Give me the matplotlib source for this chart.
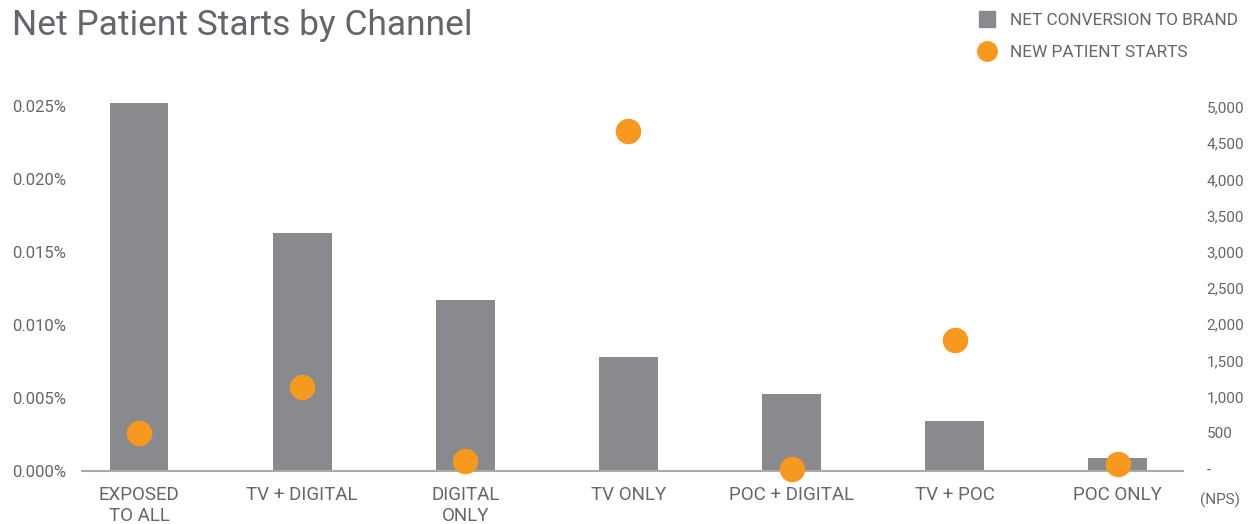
import numpy as np
import matplotlib
matplotlib.use("Agg")
import matplotlib.pyplot as plt
from matplotlib.ticker import FuncFormatter
from matplotlib.lines import Line2D

channels = ["EXPOSED\nTO ALL", "TV + DIGITAL", "DIGITAL\nONLY", "TV ONLY",
            "POC + DIGITAL", "TV + POC", "POC ONLY"]
net_conversion = [0.0252, 0.0163, 0.0117, 0.0078, 0.0053, 0.0034, 0.0009]  # percent
new_patient_starts = [500, 1135, 110, 4670, -5, 1785, 70]

bar_color = "#898a8d"
dot_color = "#f7981f"
text_color = "#63666a"

plt.rcParams["font.family"] = ["Roboto", "DejaVu Sans"]

fig = plt.figure(figsize=(12.5, 5.24), dpi=100)
ax = fig.add_axes([0.0656, 0.1011, 0.8808, 0.7176])
x = np.arange(len(channels))

ax.bar(x, net_conversion, width=0.36, color=bar_color, zorder=2)
ax.set_xlim(-0.35, len(channels) - 0.6)
ax.set_ylim(0, 0.02575)
ax.set_yticks([0, 0.005, 0.01, 0.015, 0.02, 0.025])
ax.yaxis.set_major_formatter(FuncFormatter(lambda v, p: f"{v:.3f}%"))
ax.set_xticks(x)
ax.set_xticklabels(channels, fontsize=13.5, color=text_color, linespacing=1.22)
ax.tick_params(axis="x", length=0, pad=11)
ax.tick_params(axis="y", length=0, pad=11.5, labelsize=12, labelcolor=text_color)
for s in ["top", "right", "left"]:
    ax.spines[s].set_visible(False)
ax.spines["bottom"].set_color("#a9a9a9")
ax.spines["bottom"].set_linewidth(1.5)

ax2 = ax.twinx()
ax2.scatter(x, new_patient_starts, s=300, color=dot_color, zorder=3, clip_on=False)
ax2.set_ylim(-28, 5166)
ax2.set_yticks(range(0, 5001, 500))
ax2.yaxis.set_major_formatter(FuncFormatter(lambda v, p: "-" if v == 0 else f"{int(v):,}"))
ax2.tick_params(axis="y", length=0, pad=17, labelsize=11, labelcolor=text_color)
for s in ["top", "right", "left", "bottom"]:
    ax2.spines[s].set_visible(False)

fig.text(1200 / 1250, 1 - 500 / 524, "(NPS)", fontsize=11, color=text_color,
         ha="left", va="center")

fig.text(12 / 1250, 1 - 26 / 524, "Net Patient Starts by Channel", fontsize=25.5,
         color=text_color, ha="left", va="center")

handles = [
    Line2D([], [], marker="s", linestyle="none", markersize=12, color=bar_color),
    Line2D([], [], marker="o", linestyle="none", markersize=14, color=dot_color),
]
fig.legend(handles, ["NET CONVERSION TO BRAND", "NEW PATIENT STARTS"],
           loc="upper left", bbox_to_anchor=(963 / 1250, 1 - 6 / 524),
           frameon=False, fontsize=12.4, labelcolor=text_color,
           handletextpad=0.3, labelspacing=1.0, borderaxespad=0)

fig.savefig("out.png", dpi=100)
